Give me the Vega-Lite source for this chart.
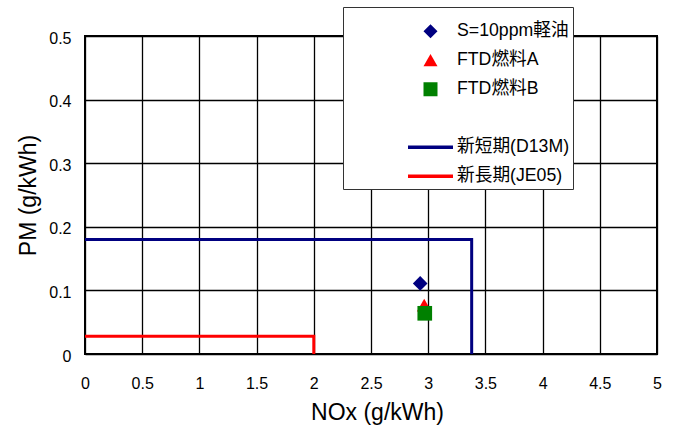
{
  "$schema": "https://vega.github.io/schema/vega-lite/v6.json",
  "width": 572,
  "height": 318,
  "autosize": {"type": "none"},
  "padding": {"left": 85, "top": 36, "right": 20, "bottom": 78},
  "background": "white",
  "config": {
    "font": "Liberation Sans",
    "view": {"stroke": "black", "strokeWidth": 2},
    "axis": {
      "grid": true, "gridColor": "black", "gridOpacity": 1, "gridWidth": 1.3,
      "domain": false, "ticks": false, "labelFlush": false,
      "labelFont": "Liberation Sans", "labelFontSize": 16, "labelColor": "black",
      "titleFont": "Liberation Sans", "titleFontSize": 23, "titleFontWeight": "normal", "titleColor": "black"
    }
  },
  "layer": [
    {
      "data": {"values": [
        {"series": "新短期(D13M)", "x": 0, "y": 0.18, "i": 0},
        {"series": "新短期(D13M)", "x": 3.38, "y": 0.18, "i": 1},
        {"series": "新短期(D13M)", "x": 3.38, "y": 0, "i": 2},
        {"series": "新長期(JE05)", "x": 0, "y": 0.028, "i": 0},
        {"series": "新長期(JE05)", "x": 2, "y": 0.028, "i": 1},
        {"series": "新長期(JE05)", "x": 2, "y": 0, "i": 2}
      ]},
      "mark": {"type": "line", "strokeWidth": 3, "strokeJoin": "miter", "strokeCap": "butt"},
      "encoding": {
        "x": {"field": "x", "type": "quantitative", "title": "NOx (g/kWh)",
          "scale": {"domain": [0, 5], "nice": false, "zero": false},
          "axis": {"values": [0, 0.5, 1, 1.5, 2, 2.5, 3, 3.5, 4, 4.5, 5], "format": "~g", "labelPadding": 21, "titlePadding": 10, "titleX": 292}},
        "y": {"field": "y", "type": "quantitative", "title": "PM (g/kWh)",
          "scale": {"domain": [0, 0.5], "nice": false, "zero": false},
          "axis": {"values": [0, 0.05, 0.1, 0.15, 0.2, 0.25, 0.3, 0.35, 0.4, 0.45, 0.5],
            "labelExpr": "round(datum.value*100) % 10 == 0 ? format(datum.value, '~g') : ''",
            "labelPadding": 14, "labelOffset": 2, "titlePadding": 8}},
        "order": {"field": "i"},
        "color": {"field": "series", "type": "nominal",
          "scale": {"domain": ["S=10ppm軽油", "FTD燃料A", "FTD燃料B", " ", "新短期(D13M)", "新長期(JE05)"],
                    "range": ["#000080", "#ff0000", "#008000", "transparent", "#000080", "#ff0000"]},
          "legend": {
            "orient": "none", "legendX": 258, "legendY": -29,
            "title": "　　　　　　　　　　　　　　　　　　　　　　　　　　　　　　　　　　　　　　",
            "titleFont": "Noto Sans CJK JP", "titleFontSize": 8.15, "titlePadding": 4, "titleLimit": 1000,
            "padding": 3, "fillColor": "white", "strokeColor": "#333333",
            "labelFont": "'Liberation Sans', 'Noto Sans CJK JP'", "labelFontSize": 17.7, "labelColor": "black", "labelLimit": 400,
            "labelAlign": "left",
            "symbolOffset": 60, "labelOffset": 2, "rowPadding": 11, "clipHeight": 18,
            "symbolOpacity": 1,
            "encode": {
              "symbols": {"update": {
                "size": {"signal": "(indexof('' + (datum.value || datum), '期') >= 0 ? 2025 : 196)"},
                "strokeWidth": {"signal": "(indexof('' + (datum.value || datum), '期') >= 0 ? 3.5 : 0)"},
                "shape": {"scale": "shape", "field": "value"},
                "fill": {"scale": "color", "field": "value"},
                "stroke": {"scale": "color", "field": "value"},
                "opacity": {"value": 1}
              }},
              "labels": {"update": {"x": {"value": 111}, "align": {"value": "left"}}}
            }
          }}
      }
    },
    {
      "data": {"values": [
        {"series": "S=10ppm軽油", "x": 2.93, "y": 0.111},
        {"series": "FTD燃料A", "x": 2.965, "y": 0.077},
        {"series": "FTD燃料B", "x": 2.97, "y": 0.064}
      ]},
      "mark": {"type": "point", "filled": true, "opacity": 1, "size": 215, "strokeWidth": 0},
      "encoding": {
        "x": {"field": "x", "type": "quantitative"},
        "y": {"field": "y", "type": "quantitative"},
        "color": {"field": "series", "type": "nominal"},
        "shape": {"field": "series", "type": "nominal",
          "scale": {"domain": ["S=10ppm軽油", "FTD燃料A", "FTD燃料B", " ", "新短期(D13M)", "新長期(JE05)"],
                    "range": ["diamond", "triangle-up", "square", "square", "stroke", "stroke"]}}
      }
    }
  ]
}
